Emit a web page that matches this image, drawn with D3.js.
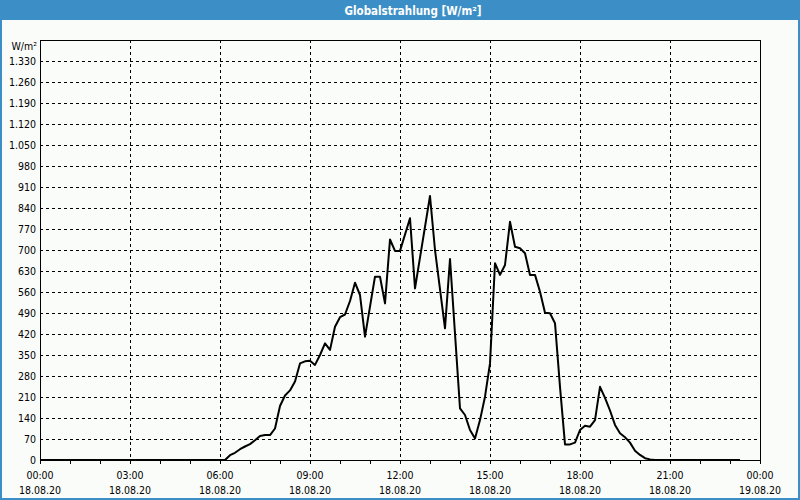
<!DOCTYPE html>
<html><head><meta charset="utf-8">
<script src="https://cdn.jsdelivr.net/npm/d3@7"></script>
<style>
html,body{margin:0;padding:0;background:#fff;}
svg{display:block;}
text{font-family:"DejaVu Sans Condensed","DejaVu Sans",sans-serif;}
</style></head>
<body>
<svg id="c" width="800" height="500"></svg>
<script>
const title = "Globalstrahlung [W/m²]";
const unitLabel = "W/m²";
const times = ["00:00","06:10","06:20","06:30","06:40","06:50","07:00","07:10","07:20","07:30","07:40","07:50",
"08:00","08:10","08:20","08:30","08:40","08:50","09:00","09:10","09:20","09:30","09:40","09:50",
"10:00","10:10","10:20","10:30","10:40","10:50","11:10","11:20","11:30","11:40","11:50",
"12:00","12:20","12:30","13:00","13:10","13:30","13:40",
"14:00","14:10","14:20","14:30","14:40","14:50","15:00","15:10","15:20","15:30","15:40","15:50",
"16:00","16:10","16:20","16:30","16:40","16:50","17:00","17:10","17:20","17:30","17:40","17:50",
"18:00","18:10","18:20","18:30","18:40","18:50","19:00","19:10","19:20","19:30","19:40","19:50",
"20:00","20:10","20:20","20:30","23:20"];
const values = [0,0,16,24,36,45,53,66,80,83,83,105,
180,215,232,262,322,329,331,317,350,389,367,444,
476,485,530,591,550,411,611,611,522,735,697,
697,806,572,880,700,439,670,
172,150,100,72,133,211,322,656,617,650,794,711,
706,689,617,617,561,491,489,456,244,52,52,58,
100,114,111,133,244,207,165,117,89,76,58,31,
17,6,2,0,0];
const xTickMinutes = [0,180,360,540,720,900,1080,1260,1440];
const xTickTimes = ["00:00","03:00","06:00","09:00","12:00","15:00","18:00","21:00","00:00"];
const xTickDates = ["18.08.20","18.08.20","18.08.20","18.08.20","18.08.20","18.08.20","18.08.20","18.08.20","19.08.20"];
const yTicks = d3.range(0, 1331, 70);
const yMax = 1400;

const svg = d3.select("#c");
const W = 800, H = 500;
const m = {left:40, right:40, top:40, bottom:40};
const toMin = s => { const [h, mm] = s.split(":").map(Number); return h*60+mm; };
const data = times.map((t,i)=>({t: toMin(t), v: values[i]}));

const x = d3.scaleLinear().domain([0,1440]).range([m.left, W-m.right]);
const y = d3.scaleLinear().domain([0,yMax]).range([H-m.bottom, m.top]);
const loc = d3.formatLocale({decimal:",", thousands:".", grouping:[3], currency:["","€"]});
const fmt = loc.format(",d");

// background & window frame
svg.append("rect").attr("x",0).attr("y",0).attr("width",W).attr("height",H).attr("fill","#fafcfa");
svg.append("rect").attr("x",0).attr("y",0).attr("width",W).attr("height",20).attr("fill","#3c8fc6");
svg.append("rect").attr("x",0.5).attr("y",0.5).attr("width",W-1).attr("height",H-1)
  .attr("fill","none").attr("stroke","#3c8fc6").attr("stroke-width",1);
svg.append("rect").attr("x",1.5).attr("y",1.5).attr("width",W-3).attr("height",H-3)
  .attr("fill","none").attr("stroke","#3c8fc6").attr("stroke-width",1);
svg.append("text").attr("x",413).attr("y",14.5).attr("text-anchor","middle")
  .attr("fill","#fff").attr("font-size","11.5px").attr("font-weight","bold").text(title);

// grid
const g = svg.append("g").attr("shape-rendering","crispEdges");
g.selectAll(".hg").data(yTicks.filter(d=>d>0)).join("line")
  .attr("x1",m.left).attr("x2",W-m.right)
  .attr("y1",d=>Math.round(y(d))+0.5).attr("y2",d=>Math.round(y(d))+0.5)
  .attr("stroke","#000").attr("stroke-dasharray","3,3");
g.selectAll(".vg").data(xTickMinutes.filter(d=>d>0&&d<1440)).join("line")
  .attr("x1",d=>Math.round(x(d))+0.5).attr("x2",d=>Math.round(x(d))+0.5)
  .attr("y1",m.top).attr("y2",H-m.bottom)
  .attr("stroke","#000").attr("stroke-dasharray","3,3");

// hour ticks
g.selectAll(".tk").data(d3.range(0,1441,60)).join("line")
  .attr("x1",d=>Math.round(x(d))+0.5).attr("x2",d=>Math.round(x(d))+0.5)
  .attr("y1",H-m.bottom).attr("y2",H-m.bottom+4).attr("stroke","#000");

// frame
g.append("rect").attr("x",m.left+0.5).attr("y",m.top+0.5)
  .attr("width",W-m.left-m.right).attr("height",H-m.top-m.bottom)
  .attr("fill","none").attr("stroke","#000");

// y labels
svg.selectAll(".yl").data(yTicks).join("text")
  .attr("x",36).attr("y",d=>y(d)+4).attr("text-anchor","end")
  .attr("font-size","10.5px").attr("fill","#000").text(d=>fmt(d));
svg.append("text").attr("x",37).attr("y",50).attr("text-anchor","end")
  .attr("font-size","10.5px").attr("fill","#000").text(unitLabel);

// x labels
const xl = svg.selectAll(".xl").data(xTickMinutes).join("g");
xl.append("text").attr("x",d=>x(d)).attr("y",479).attr("text-anchor","middle")
  .attr("font-size","10.5px").attr("fill","#000").text((d,i)=>xTickTimes[i]);
xl.append("text").attr("x",d=>x(d)).attr("y",494).attr("text-anchor","middle")
  .attr("font-size","10.5px").attr("fill","#000").text((d,i)=>xTickDates[i]);

// data line
const line = d3.line().x(d=>x(d.t)).y(d=>y(d.v));
svg.append("path").datum(data).attr("d",line)
  .attr("fill","none").attr("stroke","#000").attr("stroke-width",2).attr("stroke-linejoin","round");
</script>
</body></html>
